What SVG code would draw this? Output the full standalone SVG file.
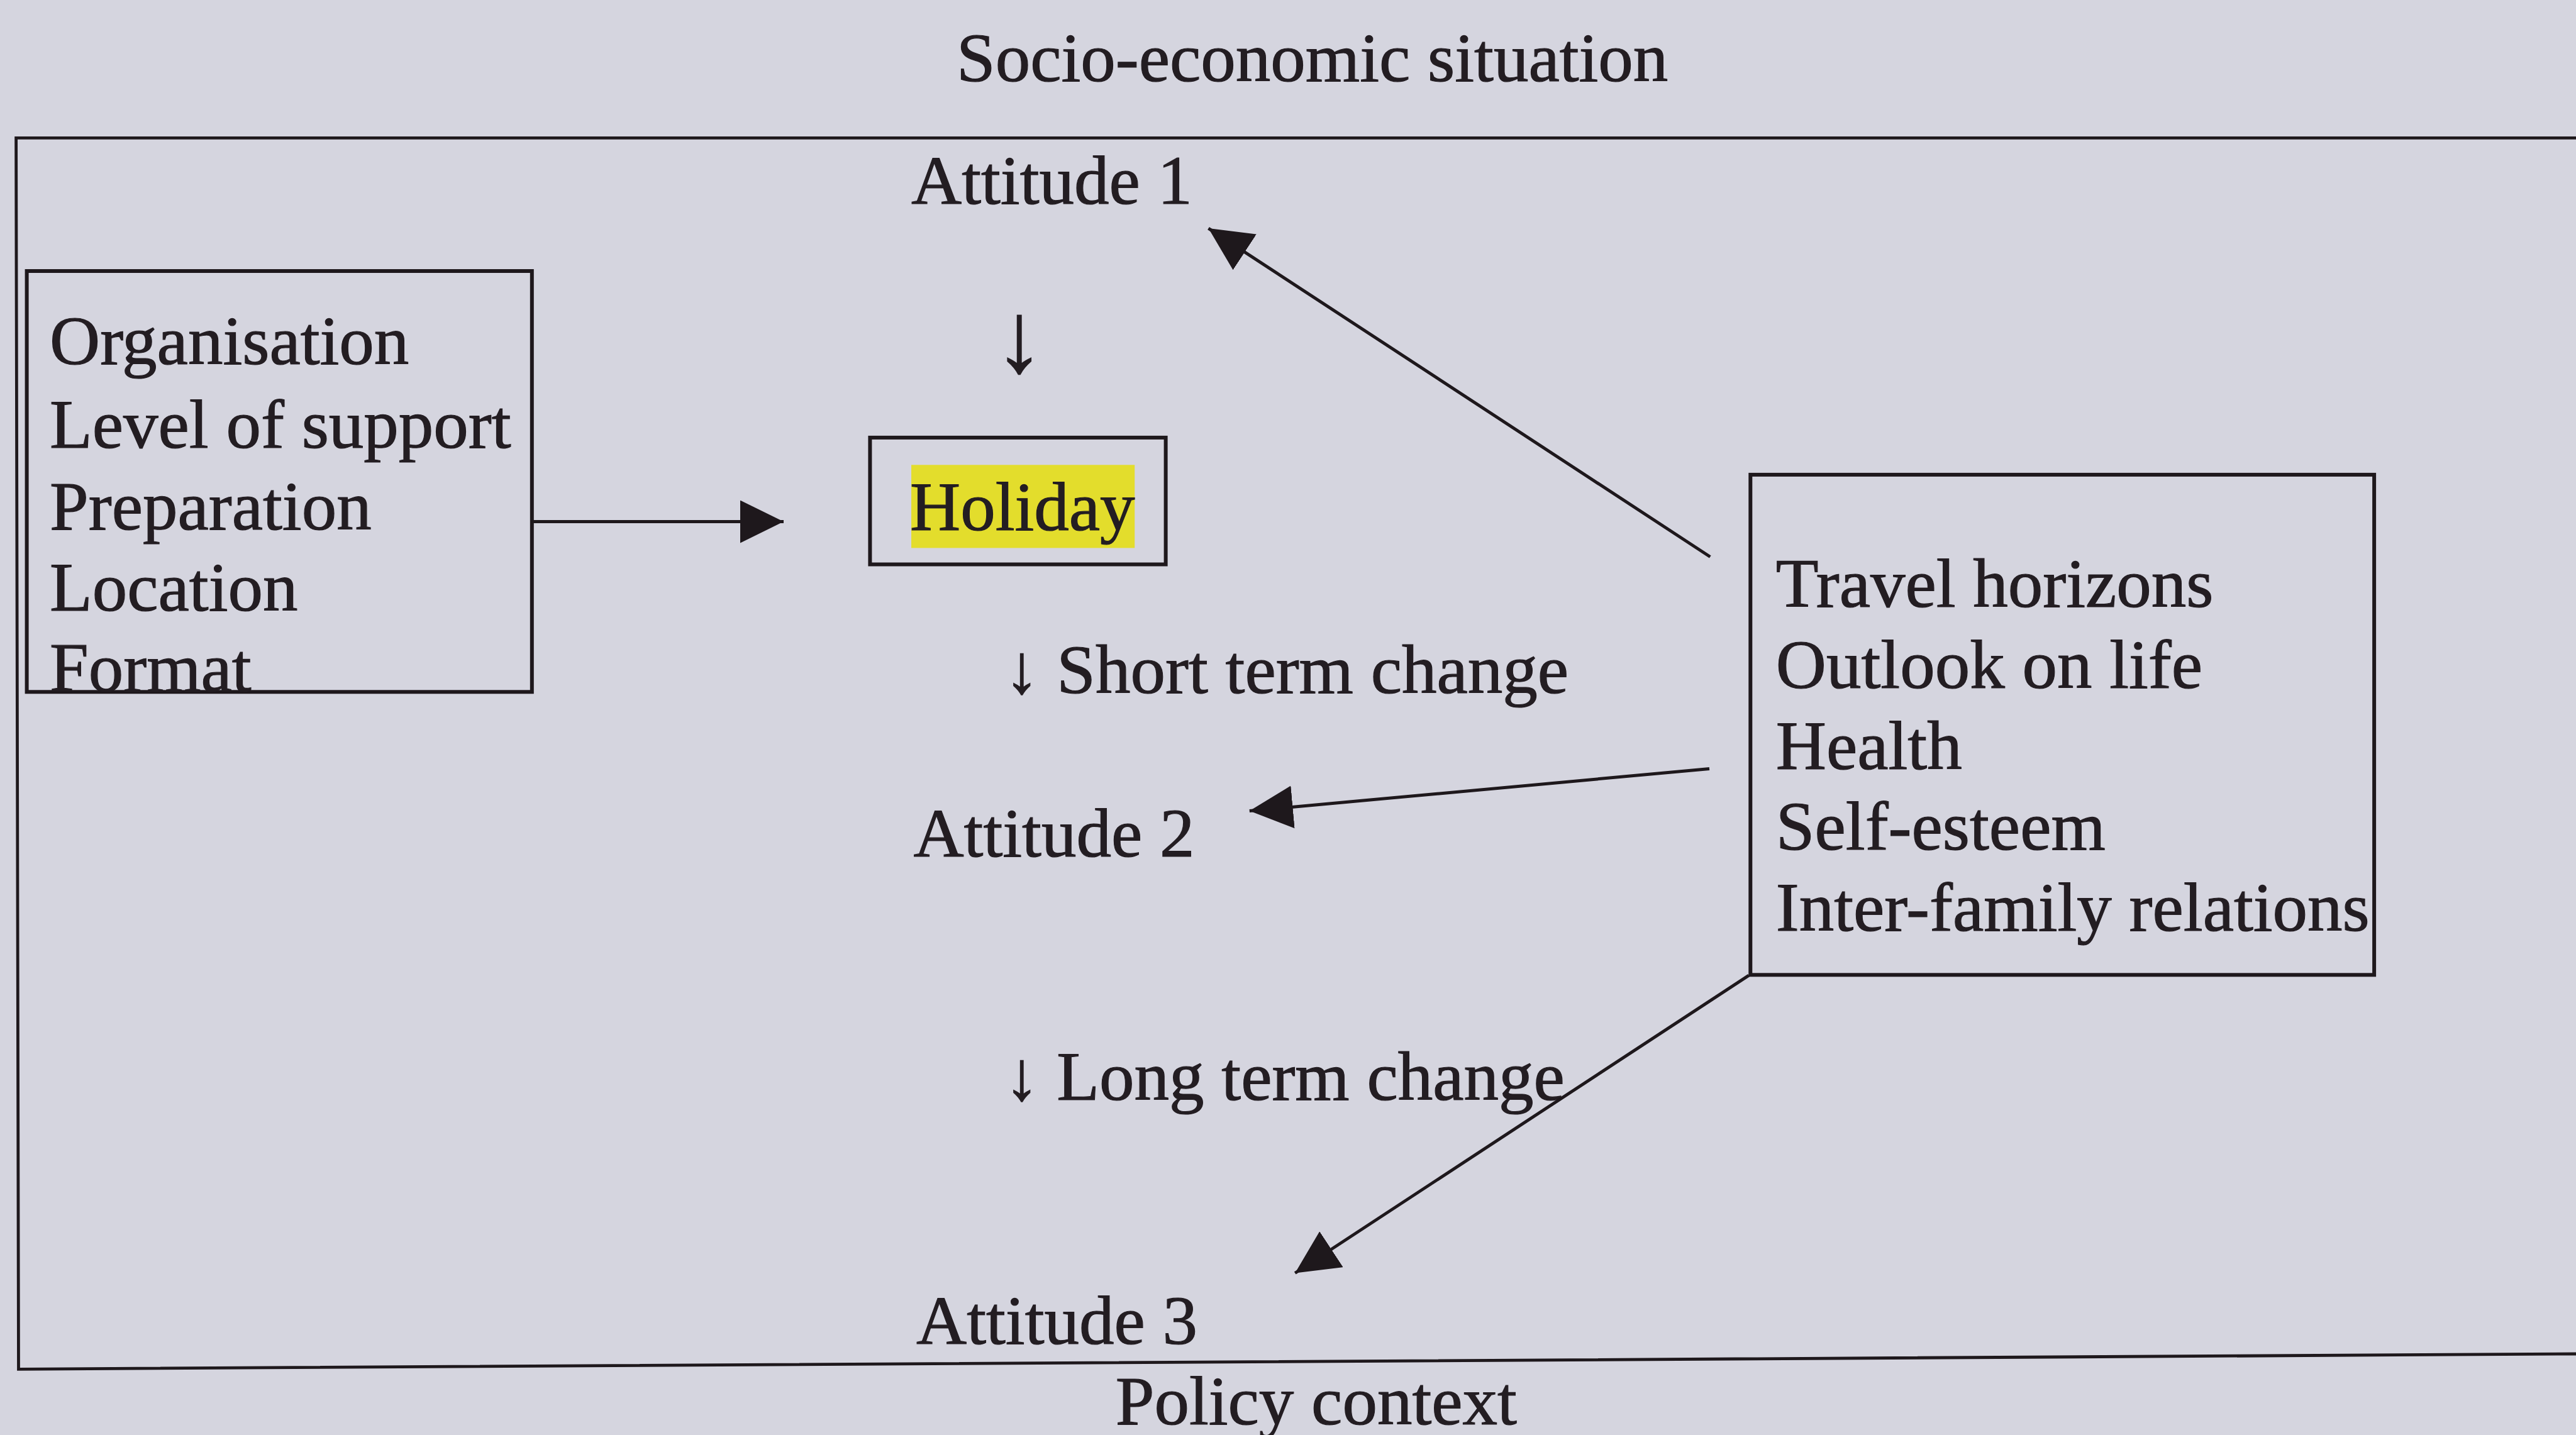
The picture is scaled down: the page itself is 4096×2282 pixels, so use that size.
<svg xmlns="http://www.w3.org/2000/svg" width="4096" height="2282" viewBox="0 0 4096 2282">
  <defs>
    <style>
      text { font-family: "Liberation Serif", "Times New Roman", serif; font-size: 111px; fill: #231d22; stroke: #231d22; stroke-width: 1.2; }
      .box { fill: none; stroke: #1e181c; stroke-width: 6; }
      .frame { fill: none; stroke: #1e181c; stroke-width: 4.8; }
      .link { fill: none; stroke: #1e181c; stroke-width: 5; marker-end: url(#head); }
    </style>
    <marker id="head" markerUnits="userSpaceOnUse" markerWidth="72" markerHeight="70" refX="69" refY="34" orient="auto" viewBox="0 0 72 70">
      <path d="M0,0 L69,34 L0,68 Z" fill="#1e181c"/>
    </marker>
  </defs>

  <!-- page -->
  <rect x="0" y="0" width="4096" height="2282" fill="#d5d5df"/>

  <!-- outer context frame (open on the right) -->
  <g id="context-frame">
    <path class="frame" d="M4096,219.4 L25.6,219.4 L29.5,2177.3 L4096,2153"/>
    <text id="socio-economic" x="1521" y="129.3">Socio-economic situation</text>
    <text id="policy-context" x="1773.7" y="2265">Policy context</text>
  </g>

  <!-- holiday characteristics -->
  <g id="holiday-factors">
    <rect class="box" x="42.6" y="431" width="803.2" height="669.3"/>
    <text x="79" y="579.4">Organisation</text>
    <text x="79" y="711.8">Level of support</text>
    <text x="79" y="841.9">Preparation</text>
    <text x="79" y="970.7">Location</text>
    <text x="79" y="1098.7">Format</text>
  </g>

  <g id="holiday">
    <rect class="box" x="1383.4" y="695.9" width="470.2" height="201.6"/>
    <rect x="1449" y="739.3" width="355.2" height="132.1" fill="#e3dd2c"/>
    <text x="1447" y="843.2">Holiday</text>
  </g>

  <g id="attitude-1"><text x="1449" y="323.9">Attitude 1</text></g>
  <g id="attitude-2"><text x="1452.4" y="1361.5">Attitude 2</text></g>
  <g id="attitude-3"><text x="1457" y="2136.5">Attitude 3</text></g>

  <g id="sequence">
    <text x="1620.6" y="590.9" text-anchor="middle" style="font-size:160px">↓</text>
    <text x="1597" y="1102.3">↓ Short term change</text>
    <text x="1597" y="1749.1">↓ Long term change</text>
  </g>

  <!-- outcomes -->
  <g id="outcomes">
    <rect class="box" x="2783.3" y="754.9" width="991.8" height="795.4"/>
    <text x="2823.8" y="964.9">Travel horizons</text>
    <text x="2823.8" y="1093.7">Outlook on life</text>
    <text x="2823.8" y="1222.5">Health</text>
    <text x="2823.8" y="1351.3">Self-esteem</text>
    <text x="2823.8" y="1480.1">Inter-family relations</text>
  </g>

  <g id="connectors">
    <line class="link" x1="845.8" y1="829.6" x2="1246" y2="829.6"/>
    <line class="link" x1="2719.3" y1="885.5" x2="1921.5" y2="363.1"/>
    <line class="link" x1="2718" y1="1222.5" x2="1986.8" y2="1289.6"/>
    <line class="link" x1="2780.7" y1="1551.1" x2="2059.2" y2="2024.5"/>
  </g>
</svg>
